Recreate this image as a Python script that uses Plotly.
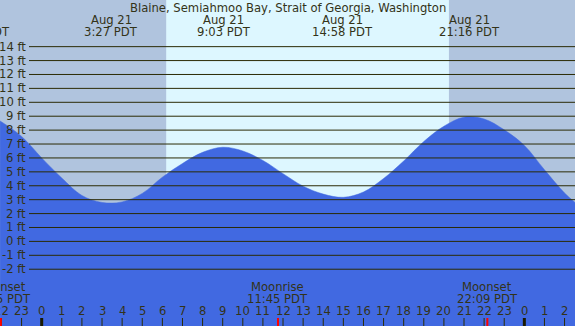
import plotly.graph_objects as go

# ---------------- data ----------------
# tide height at each hour (hours from midnight Aug 21, feet)
tide_hours = [-2.07, -1, 0, 1, 2, 3, 4, 5, 6, 7, 8, 9, 10, 11, 12, 13, 14, 15, 16, 17,
              18, 19, 20, 21, 22, 23, 24, 25, 26, 26.52]
tide_ft = [8.66, 7.55, 6.0, 4.55, 3.3, 2.8, 2.84, 3.45, 4.62, 5.6, 6.4, 6.77, 6.5, 5.82,
           4.87, 3.97, 3.4, 3.17, 3.55, 4.52, 5.78, 7.18, 8.28, 8.93, 8.8, 8.02, 6.9,
           5.15, 3.48, 2.8]

# high / low tide labels
event_hours = [-3.08, 3.45, 9.05, 14.97, 21.27]
event_dates = ["Aug 20", "Aug 21", "Aug 21", "Aug 21", "Aug 21"]
event_times = ["20:55 PDT", "3:27 PDT", "9:03 PDT", "14:58 PDT", "21:16 PDT"]

# daylight
sunrise_hour = 6.19
sunset_hour = 20.25

# moon events
moon_hours = [-2.03, 11.75, 22.16]
moon_names = ["Moonset", "Moonrise", "Moonset"]
moon_times = ["21:55 PDT", "11:45 PDT", "22:09 PDT"]

# y axis grid / labels
grid_ft = list(range(-2, 15))
grid_labels = [f"{v} ft" for v in grid_ft]

# hour ticks
tick_hours = list(range(-2, 27))
tick_labels = [str(h % 24) for h in tick_hours]
midnight_hours = [0, 24]

title = "Blaine, Semiahmoo Bay, Strait of Georgia, Washington"

# ---------------- styling ----------------
X_RANGE = [-2.0736, 26.519]
Y_RANGE = [-6.082, 17.354]
W, H = 575, 326
NIGHT = "#b0c4de"
DAY = "#ddf7ff"
WATER = "#4169e1"
GRID = "#2b2b05"
TEXT = "#333318"
FONT = "DejaVu Sans"
FS = 11.6

def px_to_ft(py):
    return Y_RANGE[1] - py / H * (Y_RANGE[1] - Y_RANGE[0])

def h_to_paper(h):
    return (h - X_RANGE[0]) / (X_RANGE[1] - X_RANGE[0])

fig = go.Figure()

# baseline for water fill (bottom of the axis)
fig.add_trace(go.Scatter(x=tide_hours, y=[Y_RANGE[0]] * len(tide_hours), mode="lines",
                         line=dict(width=0, color=WATER), hoverinfo="skip", showlegend=False))
fig.add_trace(go.Scatter(x=tide_hours, y=tide_ft, mode="lines", fill="tonexty",
                         fillcolor=WATER, line=dict(width=0.5, color=WATER, shape="spline", smoothing=1.0),
                         hoverinfo="skip", showlegend=False))

# hour ticks
tick_top = px_to_ft(318)
tx, ty = [], []
for h in tick_hours:
    if h in midnight_hours:
        continue
    tx += [h, h, None]
    ty += [Y_RANGE[0], tick_top, None]
fig.add_trace(go.Scatter(x=tx, y=ty, mode="lines", line=dict(color=GRID, width=1),
                         hoverinfo="skip", showlegend=False))
mx, my = [], []
for h in midnight_hours:
    mx += [h, h, None]
    my += [Y_RANGE[0], tick_top, None]
fig.add_trace(go.Scatter(x=mx, y=my, mode="lines", line=dict(color="#1a1a00", width=3),
                         hoverinfo="skip", showlegend=False))
rx, ry = [], []
for h in moon_hours:
    rx += [h, h, None]
    ry += [Y_RANGE[0], tick_top, None]
fig.add_trace(go.Scatter(x=rx, y=ry, mode="lines", line=dict(color="#ff0000", width=2),
                         hoverinfo="skip", showlegend=False))

shapes = []
# day band
shapes.append(dict(type="rect", xref="x", yref="paper", x0=sunrise_hour, x1=sunset_hour,
                   y0=0, y1=1, fillcolor=DAY, line=dict(width=0), layer="below"))
# grid lines
for v in grid_ft:
    shapes.append(dict(type="line", xref="paper", yref="y", x0=29 / W, x1=1, y0=v, y1=v,
                       line=dict(color=GRID, width=1), layer="above"))

annotations = []
def txt(xp, py, s, anchor="center"):
    annotations.append(dict(xref="paper", yref="y", x=xp, y=px_to_ft(py), text=s, showarrow=False,
                            xanchor=anchor, yanchor="middle",
                            font=dict(family=FONT, size=FS, color=TEXT)))

for v, lab in zip(grid_ft, grid_labels):
    annotations.append(dict(xref="paper", yref="y", x=27.5 / W, y=v, text=lab, showarrow=False,
                            xanchor="right", yanchor="middle", font=dict(family=FONT, size=FS, color=TEXT)))
txt(287.5 / W, 7.5, title)
for h, d, t in zip(event_hours, event_dates, event_times):
    xp = h_to_paper(h)
    txt(xp, 20, d)
    txt(xp, 31.7, t)
for h, n, t in zip(moon_hours, moon_names, moon_times):
    xp = h_to_paper(h)
    txt(xp, 287.3, n)
    txt(xp, 299.3, t)
for h, lab in zip(tick_hours, tick_labels):
    txt(h_to_paper(h), 310.5, lab)

fig.update_layout(
    width=W, height=H,
    margin=dict(l=0, r=0, t=0, b=0),
    paper_bgcolor=NIGHT, plot_bgcolor=NIGHT,
    xaxis=dict(range=X_RANGE, visible=False, fixedrange=True),
    yaxis=dict(range=Y_RANGE, visible=False, fixedrange=True),
    shapes=shapes, annotations=annotations, showlegend=False,
)

fig.write_html("out.html", config={"staticPlot": True},
               post_script="document.body.style.margin='0px';document.body.style.overflow='hidden';")
